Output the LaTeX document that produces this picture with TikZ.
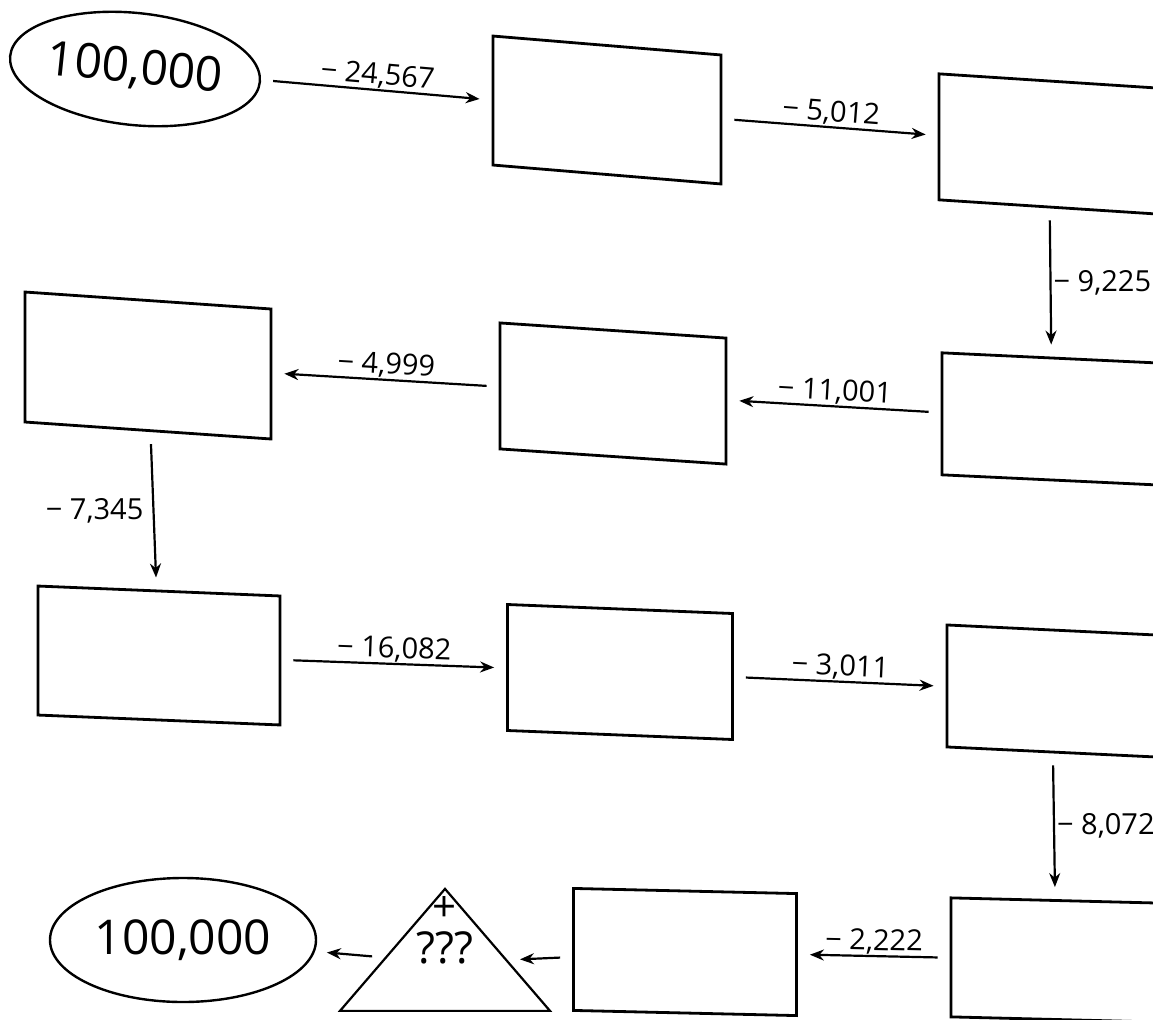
\documentclass[tikz,border=0pt]{standalone}
\usepackage{fontspec}
\setmainfont{Open Sans}
\usetikzlibrary{arrows.meta,shapes.geometric}
\tikzset{>={Stealth[length=7pt,width=5.5pt]}}
\tikzset{%
    answer/.style={draw, line width=1.4pt, inner sep=0pt},
    start/.style={draw, ellipse, line width=1.2pt, inner sep=0pt,
        font=\fontsize{24}{24}\selectfont},
    step arrow/.style={->, line width=1.1pt, shorten <=6pt, shorten >=6pt},
    amount/.style={inner sep=0.5pt, font=\fontsize{14.5}{14.5}\selectfont}
}

\begin{document}
\begin{tikzpicture}[x=0.5pt,y=-0.5pt]
    \useasboundingbox (0,0) rectangle (1153,1019);
    \clip (0,0) rectangle (1153,1019);
    % start and first row
    \node[start, minimum width=125.5pt, minimum height=56pt, rotate=-6] (e1) at (135,69) {100,000};
    \node[answer, minimum width=114pt, minimum height=64.5pt, yslant=-0.083] (b1) at (607,110) {};
    \node[answer, minimum width=110pt, minimum height=63pt, yslant=-0.065] (b2) at (1049,144) {};
    % second row
    \node[answer, minimum width=110pt, minimum height=61pt, yslant=-0.047] (b3) at (1052,419) {};
    \node[answer, minimum width=113pt, minimum height=63pt, yslant=-0.067] (b4) at (613,393.5) {};
    \node[answer, minimum width=123pt, minimum height=65pt, yslant=-0.069] (b5) at (148,365.5) {};
    % third row
    \node[answer, minimum width=121pt, minimum height=64.5pt, yslant=-0.041] (b6) at (159,655.5) {};
    \node[answer, minimum width=112.5pt, minimum height=63pt, yslant=-0.04] (b7) at (620,672) {};
    \node[answer, minimum width=105pt, minimum height=61pt, yslant=-0.048] (b8) at (1052,691) {};
    % last row
    \node[answer, minimum width=105pt, minimum height=59.5pt, yslant=-0.025] (b9) at (1056,960) {};
    \node[answer, minimum width=111.5pt, minimum height=61pt, yslant=-0.023] (b10) at (685,952) {};
    \node[draw, line width=1.1pt, isosceles triangle, isosceles triangle stretches,
        shape border rotate=90, minimum width=105pt, minimum height=61pt,
        inner sep=0pt, anchor=apex] (tri) at (445,886) {};
    \node[font=\fontsize{21}{21}\selectfont, inner sep=0pt] (plus) at (445,909) {+};
    \node[font=\fontsize{22}{22}\selectfont, inner sep=0pt] (ask) at (445,948) {???};
    \node[start, minimum width=133pt, minimum height=62pt] (e2) at (183,940) {100,000};
    % arrows
    \draw[step arrow] (e1) -- node[amount, above, sloped] {− 24,567} (b1);
    \draw[step arrow] (b1) -- node[amount, above, sloped] {− 5,012} (b2);
    \draw[step arrow] (b2) -- node[amount, right=0.5pt] {− 9,225} (b3);
    \draw[step arrow] (b3) -- node[amount, above, sloped] {− 11,001} (b4);
    \draw[step arrow] (b4) -- node[amount, above, sloped] {− 4,999} (b5);
    \draw[step arrow] (b5) -- node[amount, left=4pt] {− 7,345} (b6);
    \draw[step arrow] (b6) -- node[amount, above, sloped] {− 16,082} (b7);
    \draw[step arrow] (b7) -- node[amount, above, sloped] {− 3,011} (b8);
    \draw[step arrow] (b8) -- node[amount, right=0.5pt] {− 8,072} (b9);
    \draw[step arrow] (b9) -- node[amount, above, sloped] {− 2,222} (b10);
    \draw[step arrow] (b10) -- (tri);
    \draw[step arrow] (tri) -- (e2);
\end{tikzpicture}
\end{document}
